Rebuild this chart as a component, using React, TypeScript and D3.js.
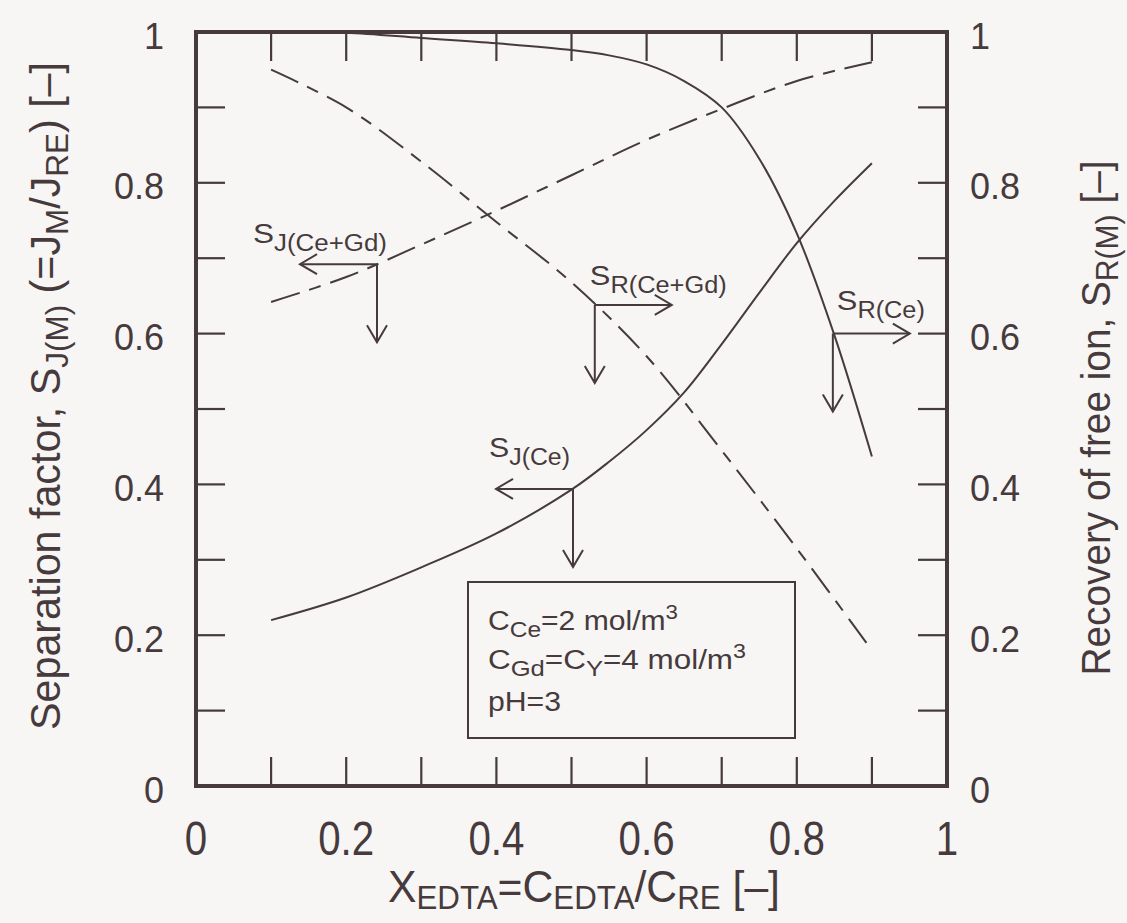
import React from 'react';
import * as d3 from 'd3';

// ---------------- data ----------------
const X_GRID = [0.1, 0.2, 0.3, 0.4, 0.5, 0.6, 0.7, 0.8, 0.9];
const S_J_CEGD = [0.642, 0.675, 0.718, 0.763, 0.81, 0.857, 0.898, 0.935, 0.96];
const S_R_CEGD = [0.95, 0.9, 0.828, 0.748, 0.668, 0.57, 0.445, 0.315, 0.18];
const S_J_CE_X = [0.1, 0.2, 0.3, 0.4, 0.5, 0.55, 0.6, 0.65, 0.7, 0.75, 0.8, 0.85, 0.9];
const S_J_CE = [0.22, 0.25, 0.29, 0.335, 0.393, 0.43, 0.472, 0.522, 0.586, 0.654, 0.72, 0.776, 0.826];
const S_R_CE_X = [0.1, 0.2, 0.3, 0.4, 0.5, 0.55, 0.6, 0.65, 0.7, 0.75, 0.8, 0.85, 0.9];
const S_R_CE = [1.0, 0.999, 0.992, 0.985, 0.976, 0.969, 0.957, 0.935, 0.9, 0.832, 0.733, 0.598, 0.437];

const MINOR_TICKS = [0.1, 0.2, 0.3, 0.4, 0.5, 0.6, 0.7, 0.8, 0.9];
const LABEL_VALUES = [0, 0.2, 0.4, 0.6, 0.8, 1];
const TICK_LABELS = ['0', '0.2', '0.4', '0.6', '0.8', '1'];

const ANN_SUBS = ['J(Ce+Gd)', 'R(Ce+Gd)', 'R(Ce)', 'J(Ce)'];
const ANN_X = [0.241, 0.531, 0.848, 0.502];
const ANN_Y = [0.692, 0.638, 0.6, 0.394];
const ANN_HDIR = [-1, 1, 1, -1];

const LEGEND_LINES = [
  [{ t: 'C', k: 'n' }, { t: 'Ce', k: 'sub' }, { t: '=2 mol/m', k: 'n' }, { t: '3', k: 'sup' }],
  [{ t: 'C', k: 'n' }, { t: 'Gd', k: 'sub' }, { t: '=C', k: 'n' }, { t: 'Y', k: 'sub' }, { t: '=4 mol/m', k: 'n' }, { t: '3', k: 'sup' }],
  [{ t: 'pH=3', k: 'n' }],
];

const X_TITLE = [{ t: 'X', k: 'n' }, { t: 'EDTA', k: 'sub' }, { t: '=C', k: 'n' }, { t: 'EDTA', k: 'sub' }, { t: '/C', k: 'n' }, { t: 'RE', k: 'sub' }, { t: ' [\u2013]', k: 'n' }];
const Y_TITLE = [{ t: 'Separation factor, S', k: 'n' }, { t: 'J(M)', k: 'sub' }, { t: ' (=J', k: 'n' }, { t: 'M', k: 'sub' }, { t: '/J', k: 'n' }, { t: 'RE', k: 'sub' }, { t: ') [\u2013]', k: 'n' }];
const Y2_TITLE = [{ t: 'Recovery of free ion, S', k: 'n' }, { t: 'R(M)', k: 'sub' }, { t: ' [\u2013]', k: 'n' }];

// ---------------- layout / style ----------------
const W = 1127, H = 923;
const INK = '#463a3c';
const BG = '#f7f6f4';
const FONT = '"Liberation Sans", Arial, Helvetica, sans-serif';
const TICK_LEN = 29;
const ARROW_H = 77, ARROW_V = 78, HEAD_L = 17, HEAD_W = 10;
const ANN_LABEL_DX = [-124, -5, 4, -84];
const ANN_LABEL_DY = [-21, -20, -24, -32];
const ANN_LABEL_LEN = [134, 137, 88, 81];
const LEGEND_LEN = [190, 258, 73];

type Seg = { t: string; k: string };

function Rich({ segs, size, subSize, subShift, supSize, supShift, ...rest }: any) {
  let cur = 0;
  return (
    <text {...rest} fontSize={size}>
      {segs.map((s: Seg, i: number) => {
        const target = s.k === 'sub' ? subShift : s.k === 'sup' ? -supShift : 0;
        const dy = target - cur;
        cur = target;
        const fs = s.k === 'sub' ? subSize : s.k === 'sup' ? supSize : size;
        return (
          <tspan key={i} dy={dy} fontSize={fs}>
            {s.t}
          </tspan>
        );
      })}
    </text>
  );
}

export default function App() {
  const x = d3.scaleLinear().domain([0, 1]).range([196, 947]);
  const y = d3.scaleLinear().domain([0, 1]).range([786, 32]);

  const line = d3
    .line<[number, number]>()
    .x((d) => x(d[0]))
    .y((d) => y(d[1]))
    .curve(d3.curveCatmullRom.alpha(0.5));

  const pts = (xs: number[], ys: number[]) => xs.map((v, i) => [v, ys[i]] as [number, number]);

  const curves = [
    { d: line(pts(X_GRID, S_J_CEGD)), dash: '30 10 12 10' },
    { d: line(pts(X_GRID, S_R_CEGD)), dash: '30 10 12 10' },
    { d: line(pts(S_J_CE_X, S_J_CE)), dash: null },
    { d: line(pts(S_R_CE_X, S_R_CE)), dash: null },
  ];

  const [x0, x1] = x.range();
  const [y0, y1] = y.range();

  return (
    <svg width={W} height={H} style={{ position: 'absolute', left: 0, top: 0 }} fontFamily={FONT}>
      <rect x={0} y={0} width={W} height={H} fill={BG} />

      {/* ticks */}
      <g stroke={INK} strokeWidth={2.2}>
        {MINOR_TICKS.map((t) => (
          <g key={'t' + t}>
            <line x1={x(t)} x2={x(t)} y1={y0} y2={y0 - TICK_LEN} />
            <line x1={x(t)} x2={x(t)} y1={y1} y2={y1 + TICK_LEN} />
            <line x1={x0} x2={x0 + TICK_LEN} y1={y(t)} y2={y(t)} />
            <line x1={x1} x2={x1 - TICK_LEN} y1={y(t)} y2={y(t)} />
          </g>
        ))}
      </g>

      {/* curves */}
      <g fill="none" stroke={INK} strokeWidth={2}>
        {curves.map((c, i) => (
          <path key={i} d={c.d || ''} strokeDasharray={c.dash || undefined} />
        ))}
      </g>

      {/* frame */}
      <rect x={x0} y={y1} width={x1 - x0} height={y0 - y1} fill="none" stroke={INK} strokeWidth={4} />

      {/* annotations */}
      <g stroke={INK} strokeWidth={2} fill="none">
        {ANN_SUBS.map((s, i) => {
          const cx = x(ANN_X[i]);
          const cy = y(ANN_Y[i]);
          const hx = cx + ANN_HDIR[i] * ARROW_H;
          const vy = cy + ARROW_V;
          const dir = ANN_HDIR[i];
          return (
            <g key={s}>
              <line x1={cx} y1={cy} x2={hx} y2={cy} />
              <polyline points={`${hx - dir * HEAD_L},${cy - HEAD_W} ${hx},${cy} ${hx - dir * HEAD_L},${cy + HEAD_W}`} />
              <line x1={cx} y1={cy} x2={cx} y2={vy} />
              <polyline points={`${cx - HEAD_W},${vy - HEAD_L} ${cx},${vy} ${cx + HEAD_W},${vy - HEAD_L}`} />
            </g>
          );
        })}
      </g>
      {ANN_SUBS.map((s, i) => (
        <Rich
          key={'l' + s}
          x={x(ANN_X[i]) + ANN_LABEL_DX[i]}
          y={y(ANN_Y[i]) + ANN_LABEL_DY[i]}
          segs={[{ t: 'S', k: 'n' }, { t: s, k: 'sub' }]}
          size={28}
          subSize={23}
          subShift={8}
          supSize={18}
          supShift={10}
          fill={INK}
          textLength={ANN_LABEL_LEN[i]}
          lengthAdjust="spacingAndGlyphs"
        />
      ))}

      {/* legend */}
      <rect x={468} y={582} width={327} height={156} fill="none" stroke={INK} strokeWidth={2} />
      {LEGEND_LINES.map((segs, i) => (
        <Rich
          key={'lg' + i}
          x={488}
          y={630 + i * 39 + (i === 2 ? 3 : 0)}
          segs={segs}
          size={27}
          subSize={22}
          subShift={7}
          supSize={20}
          supShift={11}
          fill={INK}
          textLength={LEGEND_LEN[i]}
          lengthAdjust="spacingAndGlyphs"
        />
      ))}

      {/* tick labels */}
      <g fill={INK} fontSize={36}>
        {LABEL_VALUES.map((v, i) => (
          <g key={'yl' + v}>
            <text x={164} y={y(v) + 4} textAnchor="end" dominantBaseline="central">
              {TICK_LABELS[i]}
            </text>
            <text x={970} y={y(v) + 4} textAnchor="start" dominantBaseline="central">
              {TICK_LABELS[i]}
            </text>
          </g>
        ))}
      </g>
      <g fill={INK} fontSize={48}>
        {LABEL_VALUES.map((v, i) => (
          <text key={'xl' + v} transform={`translate(${x(v)},855) scale(0.84,1)`} textAnchor="middle">
            {TICK_LABELS[i]}
          </text>
        ))}
      </g>

      {/* axis titles */}
      <Rich
        x={584}
        y={902}
        textAnchor="middle"
        segs={X_TITLE}
        size={45}
        subSize={33}
        subShift={7}
        supSize={30}
        supShift={12}
        fill={INK}
        textLength={392}
        lengthAdjust="spacingAndGlyphs"
      />
      <Rich
        transform="translate(60,396) rotate(-90)"
        x={0}
        y={0}
        textAnchor="middle"
        segs={Y_TITLE}
        size={42}
        subSize={32}
        subShift={8}
        supSize={30}
        supShift={12}
        fill={INK}
        textLength={668}
        lengthAdjust="spacingAndGlyphs"
      />
      <Rich
        transform="translate(1110,418) rotate(-90)"
        x={0}
        y={0}
        textAnchor="middle"
        segs={Y2_TITLE}
        size={40}
        subSize={31}
        subShift={8}
        supSize={30}
        supShift={12}
        fill={INK}
        textLength={515}
        lengthAdjust="spacingAndGlyphs"
      />
    </svg>
  );
}
